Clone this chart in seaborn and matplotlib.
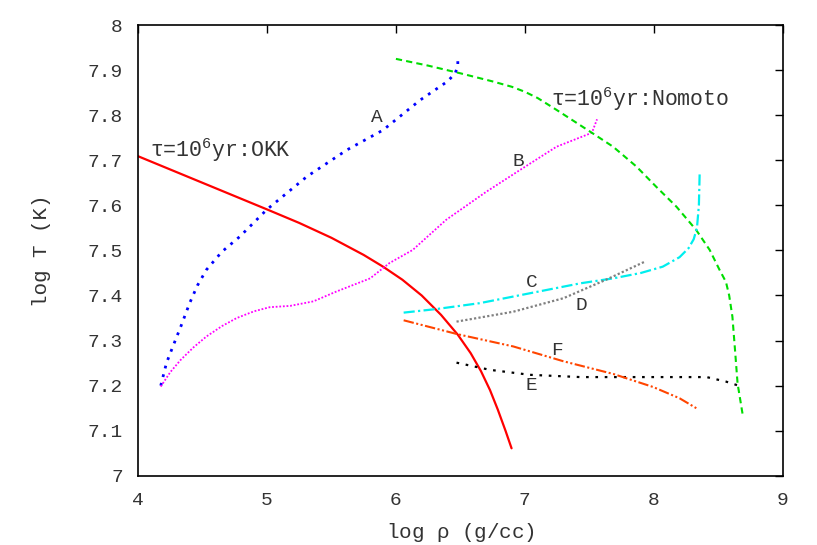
import matplotlib
matplotlib.use("Agg")
import matplotlib.pyplot as plt
import seaborn as sns
import pandas as pd

# ---- data (log rho, log T) ----
okk_x = [4.0, 4.5, 5.0, 5.25, 5.5, 5.75, 5.9, 6.05, 6.2, 6.35, 6.48, 6.58, 6.66, 6.73, 6.79, 6.85, 6.897]
okk_y = [7.709, 7.650, 7.591, 7.561, 7.528, 7.490, 7.464, 7.435, 7.400, 7.357, 7.313, 7.272, 7.232, 7.190, 7.147, 7.100, 7.061]

a_x = [4.176, 4.22, 4.27, 4.33, 4.40, 4.46, 4.53, 4.65, 4.79, 5.0, 5.31, 5.62, 5.90, 6.19, 6.40, 6.46, 6.48, 6.48]
a_y = [7.20, 7.25, 7.287, 7.33, 7.383, 7.422, 7.457, 7.497, 7.531, 7.591, 7.664, 7.723, 7.767, 7.834, 7.875, 7.893, 7.91, 7.933]

b_x = [4.176, 4.25, 4.33, 4.43, 4.53, 4.65, 4.765, 4.9, 5.02, 5.18, 5.36, 5.54, 5.80, 5.95, 6.13, 6.39, 6.7, 6.96, 7.245, 7.52, 7.56]
b_y = [7.198, 7.23, 7.257, 7.285, 7.309, 7.332, 7.35, 7.365, 7.374, 7.377, 7.387, 7.409, 7.438, 7.472, 7.501, 7.568, 7.63, 7.678, 7.73, 7.761, 7.791]

nom_x = [6.0, 6.25, 6.5, 6.75, 6.9, 7.0, 7.1, 7.245, 7.38, 7.52, 7.685, 7.866, 8.02, 8.176, 8.33, 8.434, 8.51, 8.56, 8.585, 8.61, 8.63, 8.65, 8.69]
nom_y = [7.925, 7.910, 7.893, 7.875, 7.863, 7.852, 7.838, 7.812, 7.787, 7.761, 7.730, 7.686, 7.641, 7.597, 7.545, 7.501, 7.457, 7.430, 7.400, 7.353, 7.280, 7.205, 7.135]

c_x = [6.06, 6.315, 6.65, 7.04, 7.43, 7.685, 7.9, 8.07, 8.2, 8.27, 8.31, 8.335, 8.35, 8.356]
c_y = [7.362, 7.370, 7.383, 7.405, 7.427, 7.438, 7.45, 7.464, 7.485, 7.505, 7.525, 7.55, 7.6, 7.671]

d_x = [6.47, 6.91, 7.30, 7.63, 7.93]
d_y = [7.342, 7.364, 7.394, 7.435, 7.475]

e_x = [6.47, 6.73, 7.04, 7.43, 7.94, 8.41, 8.56, 8.68]
e_y = [7.251, 7.235, 7.224, 7.219, 7.219, 7.219, 7.209, 7.198]

f_x = [6.06, 6.48, 6.91, 7.30, 7.685, 7.995, 8.20, 8.33]
f_y = [7.345, 7.314, 7.287, 7.254, 7.226, 7.197, 7.172, 7.150]

x_ticks = [4, 5, 6, 7, 8, 9]
y_ticks = [7, 7.1, 7.2, 7.3, 7.4, 7.5, 7.6, 7.7, 7.8, 7.9, 8]
y_tick_labels = ["7", "7.1", "7.2", "7.3", "7.4", "7.5", "7.6", "7.7", "7.8", "7.9", "8"]

sns.set_style("white")
plt.rcParams["font.family"] = ["Liberation Mono", "DejaVu Sans"]
plt.rcParams["mathtext.fontset"] = "custom"
plt.rcParams["mathtext.rm"] = "Liberation Mono"
plt.rcParams["mathtext.it"] = "Liberation Mono"

txt_col = "#333333"

fig = plt.figure(figsize=(8.17, 5.45), dpi=100)
ax = fig.add_axes([0.169, 0.127, 0.789, 0.827])

series = [
    (okk_x, okk_y, "#ff0000", "-", 1.6),
    (a_x, a_y, "#0000ff", (0, (1, 2.2)), 2.0),
    (b_x, b_y, "#ff00ff", (0, (1, 1)), 1.3),
    (nom_x, nom_y, "#00dd00", (0, (3, 2)), 1.5),
    (c_x, c_y, "#00eeee", (0, (5, 1.5, 1, 1.5)), 1.6),
    (d_x, d_y, "#808080", (0, (1, 1)), 1.6),
    (e_x, e_y, "#000000", (0, (1.2, 3)), 1.6),
    (f_x, f_y, "#ff4500", (0, (5, 1.2, 1, 1.2, 1, 1.2)), 1.5),
]
for xs, ys, col, ls, lw in series:
    df = pd.DataFrame({"x": xs, "y": ys})
    sns.lineplot(data=df, x="x", y="y", sort=False, estimator=None, color=col,
                 linestyle=ls, linewidth=lw, ax=ax)

ax.set_xlim(4, 9)
ax.set_ylim(7, 8)
ax.set_xticks(x_ticks)
ax.set_yticks(y_ticks)
ax.set_yticklabels(y_tick_labels)
ax.tick_params(direction="in", length=6, width=1, top=True, right=True,
               labeltop=False, labelright=False, labelsize=14, colors="black",
               labelcolor=txt_col)
ax.tick_params(axis="y", pad=11)
ax.tick_params(axis="x", pad=12)
for s in ax.spines.values():
    s.set_color("black")
    s.set_linewidth(1.2)

ax.set_xlabel(r"log $\rho$ (g/cc)", fontsize=15, labelpad=8, color=txt_col)
ax.set_ylabel("log T (K)", fontsize=15, labelpad=26, color=txt_col)

fs = 14
ax.text(5.85, 7.796, "A", fontsize=fs, ha="center", va="center", color=txt_col)
ax.text(6.95, 7.698, "B", fontsize=fs, ha="center", va="center", color=txt_col)
ax.text(7.05, 7.428, "C", fontsize=fs, ha="center", va="center", color=txt_col)
ax.text(7.44, 7.377, "D", fontsize=fs, ha="center", va="center", color=txt_col)
ax.text(7.05, 7.200, "E", fontsize=fs, ha="center", va="center", color=txt_col)
ax.text(7.25, 7.277, "F", fontsize=fs, ha="center", va="center", color=txt_col)
ax.text(4.09, 7.723, "τ=10$^{6}$yr:OKK", fontsize=15.5, ha="left", va="center", color=txt_col)
ax.text(7.20, 7.836, "τ=10$^{6}$yr:Nomoto", fontsize=15.5, ha="left", va="center", color=txt_col)

fig.savefig("out.png", dpi=100)
